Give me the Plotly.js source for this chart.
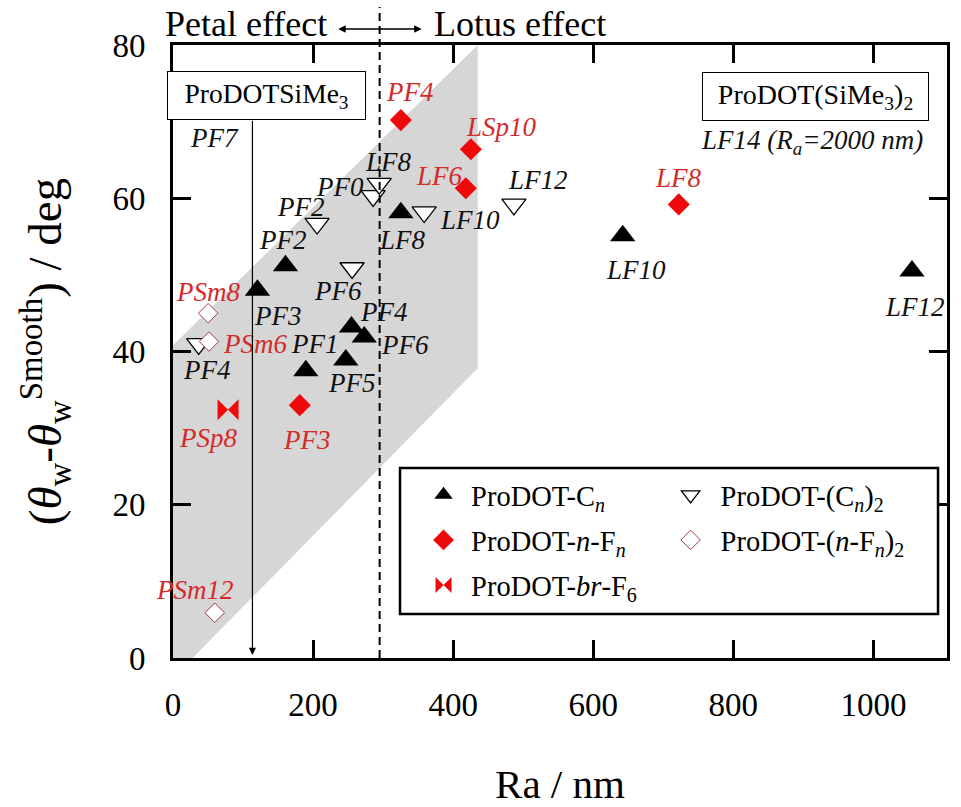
<!DOCTYPE html>
<html>
<head>
<meta charset="utf-8">
<script src="https://cdn.plot.ly/plotly-3.0.1.min.js"></script>
<style>
body{margin:0;background:#fff;}
#chart{width:961px;height:807px;}
</style>
</head>
<body>
<div id="chart"></div>
<script>
// ---------- data ----------
// ProDOT-Cn (filled black triangles)
const cnLabels = ['PF3','PF2','PF1','PF4','PF6','PF5','LF8','LF10','LF12'];
const cnRa     = [120.6, 160.6, 189.6, 254.8, 273, 246.7, 325.3, 642, 1055];
const cnDeg    = [48.0, 51.2, 37.5, 43.2, 41.9, 38.9, 58.1, 55.1, 50.5];

// ProDOT-(Cn)2 (open down triangles)
const cn2Labels = ['PF4','PF2','PF0','LF8','PF6','LF10','LF12'];
const cn2Ra     = [36.7, 205.7, 285.7, 294.4, 255.7, 358.6, 486.7];
const cn2Deg    = [41.0, 56.7, 60.3, 61.9, 50.9, 58.2, 59.2];

// ProDOT-n-Fn (filled red diamonds)
const fnLabels = ['PF3','PF4','LSp10','LF6','LF8'];
const fnRa     = [181, 325.3, 425.3, 418, 722];
const fnDeg    = [33.0, 70.2, 66.4, 61.3, 59.2];

// ProDOT-(n-Fn)2 (open diamonds)
const fn2Labels = ['PSm8','PSm6','PSm12'];
const fn2Ra     = [50.2, 51.4, 59.6];
const fn2Deg    = [45.0, 41.3, 5.9];

// ProDOT-br-F6 (bowtie)
const brLabels = ['PSp8'];
const brRa     = [78.6];
const brDeg    = [32.4];

// shaded region (parallelogram) vertices
const shadeRa  = [0, 28, 435, 435, 0];
const shadeDeg = [0, 0, 37.8, 80, 40.8];

// boundary between petal and lotus effect
const boundaryRa = 295;

// axis ticks
const xTicks = [0, 200, 400, 600, 800, 1000];
const yTicks = [0, 20, 40, 60, 80];

// ---------- label placement (pixel offsets from each point) ----------
const cnOff  = [[21,-26],[-2,26],[9,27],[33,15],[41,-8],[6,-23],[2,-27],[13,-34],[3,-36]];
const cn2Off = [[8,-26],[-16,17],[-33,9],[9,22],[-14,-23],[46,-8],[24,24]];
const fnOff  = [[7,-35],[9,28],[31,22],[-26,12],[0,26]];
const fn2Off = [[0,21],[46,-2],[-20,23]];
const brOff  = [[-20,-28]];

const SERIF = 'Liberation Serif';
const RED = '#ee0a0a';
const RED_TXT = '#d42a2a';

const traces = [
  {x: shadeRa, y: shadeDeg, type: 'scatter', mode: 'lines', fill: 'toself',
   fillcolor: '#d6d6d6', line: {width: 0, color: '#d6d6d6'}, hoverinfo: 'skip', showlegend: false},
  {x: cnRa, y: cnDeg, type: 'scatter', mode: 'markers', name: 'ProDOT-C<sub><i>n</i></sub>',
   legend: 'legend', legendgroup: 'g1',
   marker: {symbol: 'triangle-up', size: 22, color: '#000'}},
  {x: fnRa, y: fnDeg, type: 'scatter', mode: 'markers', name: 'ProDOT-<i>n</i>-F<sub><i>n</i></sub>',
   legend: 'legend', legendgroup: 'g2',
   marker: {symbol: 'diamond', size: 17, color: RED}},
  {x: brRa, y: brDeg, type: 'scatter', mode: 'markers', name: 'ProDOT-<i>br</i>-F<sub>6</sub>',
   legend: 'legend', legendgroup: 'g3',
   marker: {symbol: 'bowtie', size: 21, color: RED}},
  {x: cn2Ra, y: cn2Deg, type: 'scatter', mode: 'markers', name: 'ProDOT-(C<sub><i>n</i></sub>)<sub>2</sub>',
   legend: 'legend2', legendgroup: 'g4',
   marker: {symbol: 'triangle-down', size: 21, color: '#fff', line: {color: '#000', width: 1.3}}},
  {x: fn2Ra, y: fn2Deg, type: 'scatter', mode: 'markers', name: 'ProDOT-(<i>n</i>-F<sub><i>n</i></sub>)<sub>2</sub>',
   legend: 'legend2', legendgroup: 'g5',
   marker: {symbol: 'diamond', size: 15, color: '#fff', line: {color: '#a83a3a', width: 1}}}
];

const annotations = [];
function addLabels(xs, ys, texts, offs, color) {
  for (let i = 0; i < xs.length; i++) {
    annotations.push({x: xs[i], y: ys[i], xref: 'x', yref: 'y', text: '<i>' + texts[i] + '</i>', showarrow: false,
      xshift: offs[i][0], yshift: offs[i][1],
      font: {family: SERIF, size: 27, color: color}});
  }
}
addLabels(cnRa, cnDeg, cnLabels, cnOff, '#111');
addLabels(cn2Ra, cn2Deg, cn2Labels, cn2Off, '#111');
addLabels(fnRa, fnDeg, fnLabels, fnOff, RED_TXT);
addLabels(fn2Ra, fn2Deg, fn2Labels, fn2Off, RED_TXT);
addLabels(brRa, brDeg, brLabels, brOff, RED_TXT);

annotations.push(
  {x: 222, y: 1.034, xref: 'x', yref: 'paper', xanchor: 'right', yanchor: 'middle', showarrow: false,
   text: 'Petal effect', font: {family: SERIF, size: 36, color: '#000'}},
  {x: 370, y: 1.034, xref: 'x', yref: 'paper', xanchor: 'left', yanchor: 'middle', showarrow: false,
   text: 'Lotus effect', font: {family: SERIF, size: 36, color: '#000'}},
  {x: 355, y: 1.026, xref: 'x', yref: 'paper', text: '', showarrow: true, ax: -85, ay: 0,
   arrowside: 'end+start', arrowhead: 2, arrowsize: 1, arrowwidth: 1.5, arrowcolor: '#000'},
  {x: 113.4, y: 0.4, xref: 'x', yref: 'y', ax: 113.4, ay: 70.3, axref: 'x', ayref: 'y', text: '',
   showarrow: true, arrowhead: 2, arrowsize: 1.2, arrowwidth: 1.2, arrowcolor: '#000'},
  {x: 132.9, y: 73.47, xref: 'x', yref: 'y', showarrow: false, text: 'ProDOTSiMe<sub>3</sub>',
   width: 197, height: 47, borderpad: 0, bordercolor: '#000', borderwidth: 1, bgcolor: '#fff',
   font: {family: SERIF, size: 27.5, color: '#000'}},
  {x: 59.6, y: 67.9, xref: 'x', yref: 'y', showarrow: false, text: '<i>PF7</i>',
   font: {family: SERIF, size: 27, color: '#111'}},
  {x: 1123.9, y: 72.95, xref: 'x', yref: 'y', text: '', showarrow: true, ax: -30, ay: 0,
   arrowhead: 2, arrowsize: 1, arrowwidth: 1.2, arrowcolor: '#000'},
  {x: 917.4, y: 73.25, xref: 'x', yref: 'y', showarrow: false, text: 'ProDOT(SiMe<sub>3</sub>)<sub>2</sub>',
   width: 225, height: 47, borderpad: 0, bordercolor: '#000', borderwidth: 1, bgcolor: '#fff',
   font: {family: SERIF, size: 28, color: '#000'}},
  {x: 912, y: 67.3, xref: 'x', yref: 'y', showarrow: false, text: '<i>LF14 (R<sub>a</sub>=2000 nm)</i>',
   font: {family: SERIF, size: 27, color: '#111'}}
);

const axisCommon = {
  showline: true, linewidth: 3, linecolor: '#000', mirror: 'allticks',
  ticks: 'inside', ticklen: 18, tickwidth: 3, tickcolor: '#000',
  showgrid: false, zeroline: false,
  tickfont: {family: SERIF, size: 33, color: '#000'}
};

const layout = {
  width: 961, height: 807,
  margin: {l: 173, r: 14, t: 45, b: 149},
  paper_bgcolor: '#fff', plot_bgcolor: '#fff',
  font: {family: SERIF, color: '#000'},
  showlegend: true,
  xaxis: Object.assign({}, axisCommon, {
    range: [0, 1105], tickvals: xTicks, ticklabelstandoff: 15,
    title: {text: 'Ra / nm', font: {family: SERIF, size: 41, color: '#000'}, standoff: 50}
  }),
  yaxis: Object.assign({}, axisCommon, {
    range: [0, 80], tickvals: yTicks, ticklabelstandoff: 18,
    title: {text: '(<i>θ</i><sub>w</sub>-<i>θ</i><sub>w</sub><sup>Smooth</sup>) / deg',
            font: {family: SERIF, size: 47, color: '#000'}, standoff: 36}
  }),
  legend: {x: 0.314, y: 0.307, xanchor: 'left', yanchor: 'top', bgcolor: 'rgba(0,0,0,0)',
           borderwidth: 0, tracegroupgap: 5, traceorder: 'grouped', itemwidth: 45,
           font: {family: SERIF, size: 28.5, color: '#000'}},
  legend2: {x: 0.63, y: 0.307, xanchor: 'left', yanchor: 'top', bgcolor: 'rgba(0,0,0,0)',
            borderwidth: 0, tracegroupgap: 5, traceorder: 'grouped', itemwidth: 50,
            font: {family: SERIF, size: 28.5, color: '#000'}},
  shapes: [
    {type: 'line', xref: 'x', yref: 'paper', x0: boundaryRa, x1: boundaryRa, y0: 0, y1: 1.062,
     line: {color: '#000', width: 2, dash: '8px,5px'}},
    {type: 'rect', xref: 'paper', yref: 'paper', x0: 0.2933, x1: 0.9884, y0: 0.0718, y1: 0.310,
     line: {color: '#000', width: 2.5}, fillcolor: '#fff', layer: 'above'}
  ],
  annotations: annotations
};

Plotly.newPlot('chart', traces, layout, {displayModeBar: false, staticPlot: true});
</script>
</body>
</html>
